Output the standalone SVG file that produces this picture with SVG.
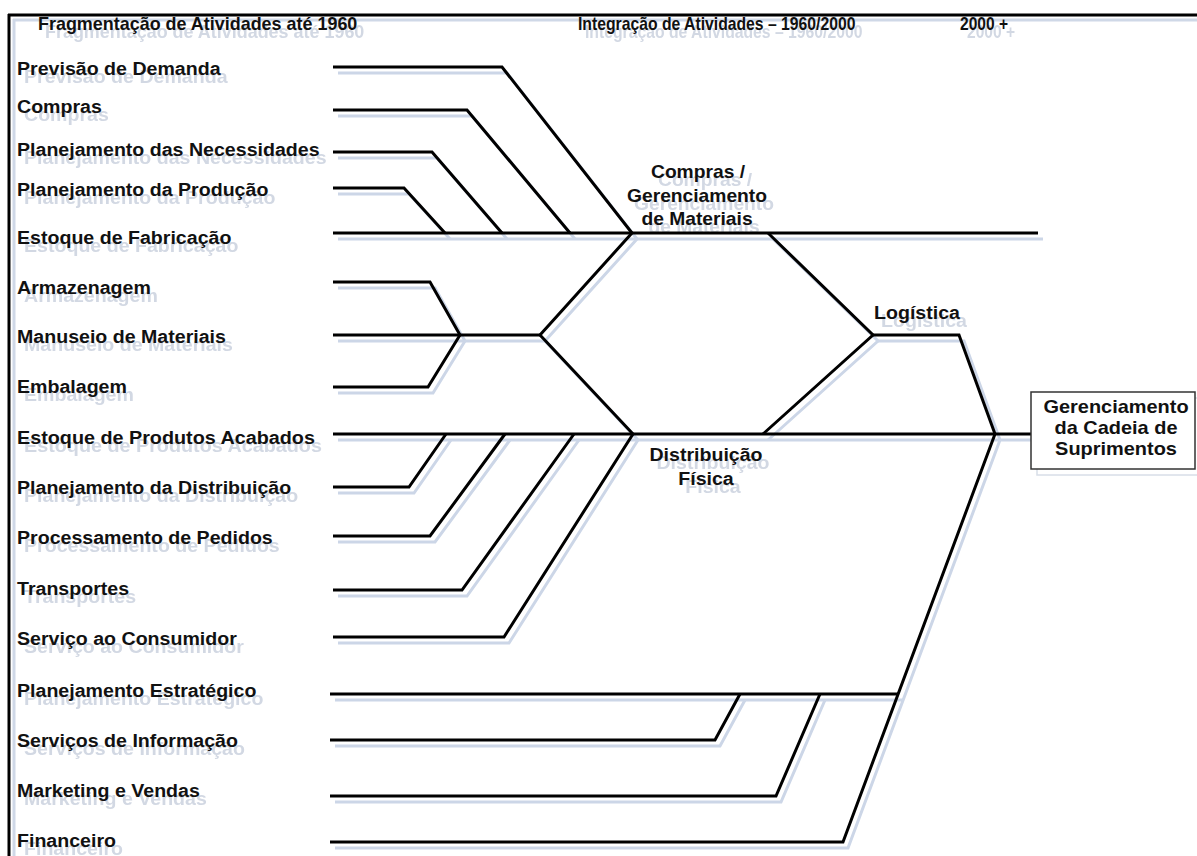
<svg xmlns="http://www.w3.org/2000/svg" xmlns:xlink="http://www.w3.org/1999/xlink" width="1197" height="856" viewBox="0 0 1197 856">
  <style>
    text { font-family: "Liberation Sans", Arial, sans-serif; font-weight: bold; font-size: 17.5px; }
    .mid { text-anchor: middle; }
    .wire { fill: none; stroke-width: 3; stroke-linejoin: miter; stroke-linecap: butt; }
    .frame { fill: none; stroke-width: 3; }
  </style>
  <defs>
    <filter id="soft" x="-5%" y="-5%" width="110%" height="110%">
      <feGaussianBlur stdDeviation="0.7"/>
    </filter>
  </defs>

  <rect width="1197" height="856" fill="#fff"/>

  <!-- drop shadows: offset copies of the frame, wires and labels -->
  <g id="shadows" filter="url(#soft)">
    <use xlink:href="#frame" transform="translate(5 5)" stroke="#cfd8e7"/>
    <use xlink:href="#connectors" transform="translate(5 6)" stroke="#ccd6e7"/>
    <rect x="1037" y="398" width="164" height="77" fill="none" stroke="#d8dee8" stroke-width="1.5"/>
    <use xlink:href="#labels" transform="translate(7 8)" fill="#d2d8e3"/>
  </g>

  <!-- outer frame (top and left edges) -->
  <g stroke="#000">
    <g id="frame" class="frame">
      <path d="M8 15 H1197 M9 14 V856"/>
    </g>
  </g>

  <!-- connectors -->
  <g stroke="#000">
    <g id="connectors" class="wire">
      <path d="M333 67 H502 L632 233"/>
      <path d="M333 110 H467 L570 233"/>
      <path d="M333 152 H432 L502 233"/>
      <path d="M333 188 H404 L445 233"/>
      <path d="M333 233 H1038"/>
      <path d="M333 282 H430 L460 335"/>
      <path d="M333 335 H540"/>
      <path d="M333 387 H428 L460 335"/>
      <path d="M632 233 L540 335 L633 434"/>
      <path d="M333 434 H1031"/>
      <path d="M333 487 H409 L446 434"/>
      <path d="M333 536 H430 L505 434"/>
      <path d="M333 590 H462 L574 434"/>
      <path d="M333 637 H504 L633 434"/>
      <path d="M768 233 L873 335 L763 434"/>
      <path d="M873 335 H959 L995 434"/>
      <path d="M330 694 H899"/>
      <path d="M330 740 H715 L740 694"/>
      <path d="M330 796 H776 L820 694"/>
      <path d="M330 842 H843 L995 434"/>
    </g>
  </g>

  <!-- supply chain box -->
  <g id="node-scm">
    <rect x="1031" y="392" width="164" height="77" fill="#fff" stroke="#333" stroke-width="1.5"/>
  </g>

  <!-- all labels -->
  <g fill="#111">
    <g id="labels">
      <g id="headers">
        <text transform="translate(38 30) scale(1.025 1)">Fragmentação de Atividades até 1960</text>
        <text transform="translate(578 30) scale(0.9 1)">Integração de Atividades – 1960/2000</text>
        <text transform="translate(960 30) scale(0.89 1)">2000 +</text>
      </g>
      <g id="node-previsao"><text transform="translate(17 75) scale(1.12 1)">Previsão de Demanda</text></g>
      <g id="node-compras"><text transform="translate(17 113) scale(1.12 1)">Compras</text></g>
      <g id="node-plan-necessidades"><text transform="translate(17 156) scale(1.12 1)">Planejamento das Necessidades</text></g>
      <g id="node-plan-producao"><text transform="translate(17 196) scale(1.12 1)">Planejamento da Produção</text></g>
      <g id="node-estoque-fabricacao"><text transform="translate(17 244) scale(1.12 1)">Estoque de Fabricação</text></g>
      <g id="node-armazenagem"><text transform="translate(17 294) scale(1.12 1)">Armazenagem</text></g>
      <g id="node-manuseio"><text transform="translate(17 343) scale(1.12 1)">Manuseio de Materiais</text></g>
      <g id="node-embalagem"><text transform="translate(17 393) scale(1.12 1)">Embalagem</text></g>
      <g id="node-estoque-acabados"><text transform="translate(17 444) scale(1.13 1)">Estoque de Produtos Acabados</text></g>
      <g id="node-plan-distribuicao"><text transform="translate(17 494) scale(1.12 1)">Planejamento da Distribuição</text></g>
      <g id="node-processamento"><text transform="translate(17 544) scale(1.12 1)">Processamento de Pedidos</text></g>
      <g id="node-transportes"><text transform="translate(17 595) scale(1.12 1)">Transportes</text></g>
      <g id="node-servico"><text transform="translate(17 645) scale(1.12 1)">Serviço ao Consumidor</text></g>
      <g id="node-plan-estrategico"><text transform="translate(17 697) scale(1.12 1)">Planejamento Estratégico</text></g>
      <g id="node-servicos-info"><text transform="translate(17 747) scale(1.12 1)">Serviços de Informação</text></g>
      <g id="node-marketing"><text transform="translate(17 797) scale(1.12 1)">Marketing e Vendas</text></g>
      <g id="node-financeiro"><text transform="translate(17 847) scale(1.12 1)">Financeiro</text></g>

      <g id="node-gerenc-materiais">
        <text class="mid" transform="translate(698 178) scale(1.1 1)">Compras /</text>
        <text class="mid" transform="translate(697 202) scale(1.1 1)">Gerenciamento</text>
        <text class="mid" transform="translate(697 225) scale(1.1 1)">de Materiais</text>
      </g>
      <g id="node-logistica">
        <text transform="translate(874 319) scale(1.12 1)">Logística</text>
      </g>
      <g id="node-distribuicao">
        <text class="mid" transform="translate(706 461) scale(1.12 1)">Distribuição</text>
        <text class="mid" transform="translate(706 485) scale(1.12 1)">Física</text>
      </g>
      <g id="node-scm-label">
        <text class="mid" transform="translate(1116 413) scale(1.14 1)">Gerenciamento</text>
        <text class="mid" transform="translate(1116 434) scale(1.14 1)">da Cadeia de</text>
        <text class="mid" transform="translate(1116 455) scale(1.14 1)">Suprimentos</text>
      </g>
    </g>
  </g>
</svg>
